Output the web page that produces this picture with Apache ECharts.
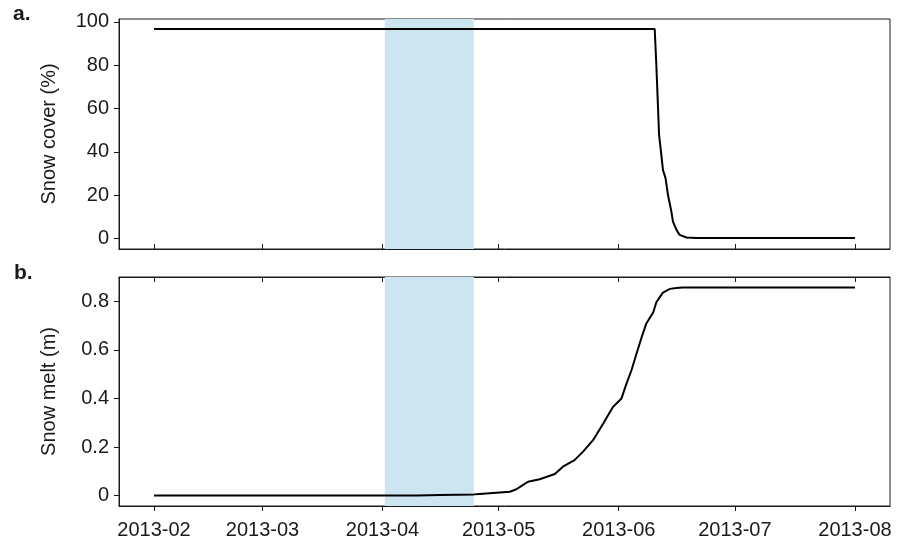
<!DOCTYPE html>
<html>
<head>
<meta charset="utf-8">
<script src="https://cdn.jsdelivr.net/npm/echarts@6/dist/echarts.min.js"></script>
<style>
  html, body { margin: 0; padding: 0; background: #fff; }
  #chart { width: 900px; height: 544px; }
</style>
</head>
<body>
<div id="chart"></div>
<script>
// Month tick positions shared by both panels
const monthTicks = ['2013-02', '2013-03', '2013-04', '2013-05', '2013-06', '2013-07', '2013-08'];

// Shaded period
const shadeStart = '2013-04-01T14:00';
const shadeEnd = '2013-04-24T14:00';

// Panel a: snow cover (%)
const coverDates = [
  '2013-02-01', '2013-06-10T07:00', '2013-06-10T17:00', '2013-06-11T02:00', '2013-06-11T10:00',
  '2013-06-12T00:00', '2013-06-12T10:00', '2013-06-13T02:00', '2013-06-13T17:00', '2013-06-14T14:00',
  '2013-06-15T00:00', '2013-06-15T22:00', '2013-06-16T17:00', '2013-06-18T12:00', '2013-06-21',
  '2013-08-01'
];
const coverValues = [
  96.7, 96.7, 80.2, 63.2, 47.9,
  38.6, 31.7, 27.9, 20.2, 12.5,
  7.8, 4.0, 1.7, 0.5, 0.2,
  0.2
];
const coverTicks = [0, 20, 40, 60, 80, 100];

// Panel b: cumulative snow melt (m)
const meltDates = [
  '2013-02-01', '2013-04-10', '2013-04-15T19:00', '2013-04-24T14:00', '2013-04-26T02:00',
  '2013-05-03T21:00', '2013-05-05T14:00', '2013-05-07T07:00', '2013-05-08T14:00', '2013-05-11T14:00',
  '2013-05-15T12:00', '2013-05-17T14:00', '2013-05-20T14:00', '2013-05-22T19:00', '2013-05-25T10:00',
  '2013-05-28T00:00', '2013-05-30T12:00', '2013-06-01T17:00', '2013-06-03T00:00', '2013-06-04T07:00',
  '2013-06-05T14:00', '2013-06-06T22:00', '2013-06-08T02:00', '2013-06-09T22:00', '2013-06-10T17:00',
  '2013-06-12T00:00', '2013-06-12T10:00', '2013-06-14T05:00', '2013-06-15T22:00', '2013-06-17T12:00',
  '2013-08-01'
];
const meltValues = [
  0, 0, 0.002, 0.005, 0.007,
  0.016, 0.026, 0.044, 0.057, 0.067,
  0.089, 0.119, 0.146, 0.181, 0.229,
  0.297, 0.365, 0.400, 0.461, 0.516,
  0.584, 0.652, 0.707, 0.755, 0.796,
  0.826, 0.836, 0.851, 0.855, 0.857,
  0.857
];
const meltTicks = [0, 0.2, 0.4, 0.6, 0.8];

// Parse 'YYYY-MM[-DD][THH:mm]' as local time
function toTime(s) {
  const parts = s.split('T');
  const d = parts[0].split('-').map(Number);
  const t = parts[1] ? parts[1].split(':').map(Number) : [0, 0];
  return new Date(d[0], d[1] - 1, d[2] || 1, t[0], t[1]).getTime();
}
function pad(n) { return (n < 10 ? '0' : '') + n; }
function monthLabel(v) {
  const d = new Date(v);
  return d.getFullYear() + '-' + pad(d.getMonth() + 1);
}

// 5% padding on each side of the plotted span
const firstT = toTime(coverDates[0]);
const lastT = toTime(coverDates[coverDates.length - 1]);
const padT = (lastT - firstT) * 0.05;
const xMin = firstT - padT;
const xMax = lastT + padT;

function rangeWithPad(lo, hi) {
  const p = (hi - lo) * 0.05;
  return [lo - p, hi + p];
}
const coverRange = rangeWithPad(0, 96.5);
const meltRange = rangeWithPad(0, Math.max.apply(null, meltValues));

const tickTimes = monthTicks.map(toTime);
const FONT = '"Liberation Sans", Arial, Helvetica, sans-serif';
const INK = '#1a1a1a';

function xAxisDef(gridIndex, position, labels, inside) {
  return {
    type: 'value',
    gridIndex: gridIndex,
    position: position,
    min: xMin,
    max: xMax,
    axisLine: { show: true, onZero: false, lineStyle: { color: INK, width: 1 } },
    axisTick: { show: true, inside: inside, length: 5, customValues: tickTimes, lineStyle: { color: INK, width: 1 } },
    axisLabel: labels ? {
      show: true, customValues: tickTimes, formatter: monthLabel,
      color: INK, fontSize: 20, fontFamily: FONT, margin: 14
    } : { show: false },
    splitLine: { show: false },
    minorTick: { show: false }
  };
}

function yAxisDef(gridIndex, range, ticks, name) {
  return {
    type: 'value',
    gridIndex: gridIndex,
    min: range[0],
    max: range[1],
    name: name,
    nameLocation: 'middle',
    nameGap: 60,
    nameTextStyle: { color: INK, fontSize: 20, fontFamily: FONT },
    axisLine: { show: true, onZero: false, lineStyle: { color: INK, width: 1 } },
    axisTick: { show: true, length: 5, customValues: ticks, lineStyle: { color: INK, width: 1 } },
    axisLabel: { show: true, customValues: ticks, color: INK, fontSize: 20, fontFamily: FONT, margin: 10 },
    splitLine: { show: false }
  };
}

function pairs(dates, values) {
  return dates.map(function (d, i) { return [toTime(d), values[i]]; });
}

function shadeSeries(xi, yi) {
  return {
    type: 'line',
    xAxisIndex: xi,
    yAxisIndex: yi,
    data: [],
    silent: true,
    z: 1,
    markArea: {
      silent: true,
      itemStyle: { color: '#cde5f0' },
      data: [[{ xAxis: toTime(shadeStart) }, { xAxis: toTime(shadeEnd) }]]
    }
  };
}

function lineSeries(xi, yi, data) {
  return {
    type: 'line',
    xAxisIndex: xi,
    yAxisIndex: yi,
    data: data,
    showSymbol: false,
    symbol: 'none',
    z: 3,
    lineStyle: { color: '#000', width: 2 }
  };
}

const chart = echarts.init(document.getElementById('chart'), null, { renderer: 'canvas' });
chart.setOption({
  animation: false,
  backgroundColor: '#fff',
  grid: [
    { left: 119, top: 19, width: 771, height: 230, show: true, borderColor: INK, borderWidth: 1, backgroundColor: 'transparent' },
    { left: 119, top: 277, width: 771, height: 229, show: true, borderColor: INK, borderWidth: 1, backgroundColor: 'transparent' }
  ],
  xAxis: [
    xAxisDef(0, 'bottom', false, true),
    xAxisDef(1, 'bottom', true, false),
    xAxisDef(1, 'top', false, true)
  ],
  yAxis: [
    yAxisDef(0, coverRange, coverTicks, 'Snow cover (%)'),
    yAxisDef(1, meltRange, meltTicks, 'Snow melt (m)')
  ],
  graphic: [
    { type: 'text', x: 13, y: 14, style: { text: 'a.', font: 'bold 21px ' + FONT, fill: INK, verticalAlign: 'middle' } },
    { type: 'text', x: 14, y: 273, style: { text: 'b.', font: 'bold 21px ' + FONT, fill: INK, verticalAlign: 'middle' } }
  ],
  series: [
    shadeSeries(0, 0),
    shadeSeries(1, 1),
    lineSeries(0, 0, pairs(coverDates, coverValues)),
    lineSeries(1, 1, pairs(meltDates, meltValues))
  ]
});
</script>
</body>
</html>
